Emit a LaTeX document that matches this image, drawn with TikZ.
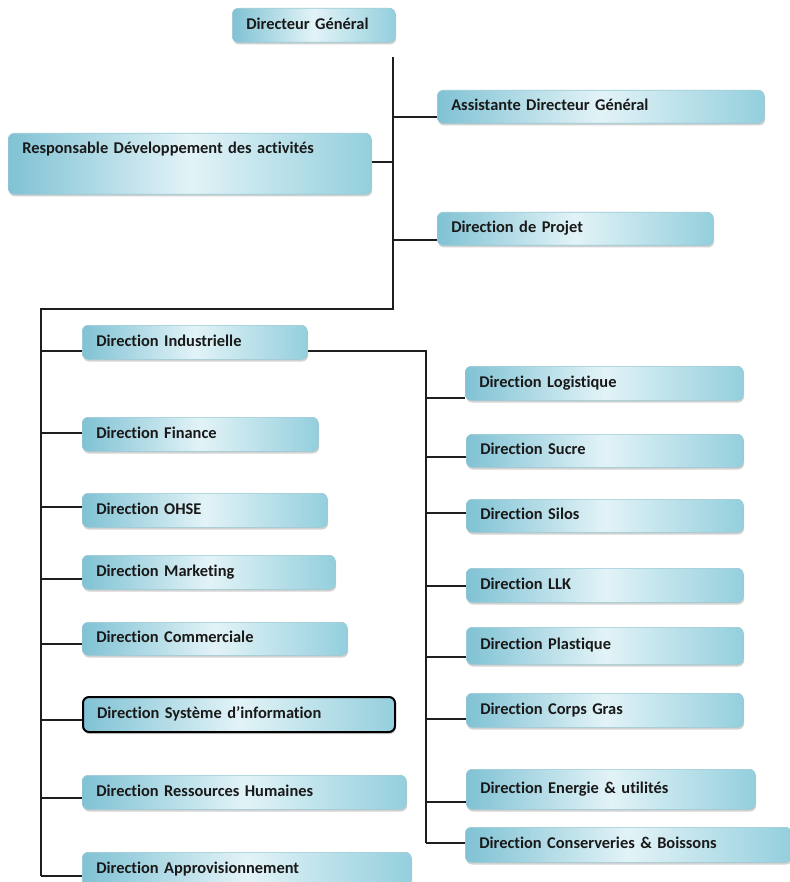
\documentclass[tikz,border=0pt]{standalone}
\usepackage{fontspec}
\setmainfont{Carlito}[Ligatures={NoCommon}]
\usetikzlibrary{positioning, shadows}

\definecolor{unitedge}{RGB}{150,200,212}
\definecolor{unitdark}{RGB}{128,194,212}
\definecolor{unitlight}{RGB}{226,243,247}
\definecolor{unitright}{RGB}{148,207,221}
\definecolor{linkgray}{RGB}{30,30,30}

\tikzset{
  unit/.style={rectangle, rounded corners=6pt, draw=unitedge, line width=0.6pt,
    left color=unitdark, right color=unitright, middle color=unitlight,
    drop shadow={shadow xshift=0.8pt, shadow yshift=-2.2pt, opacity=0.35},
    anchor=north west, align=left, inner xsep=14pt, inner ysep=0pt,
    text height=11pt, text depth=3pt, text=black!90,
    font=\bfseries\fontsize{16.4}{19}\selectfont},
  link/.style={draw=linkgray, line width=1.1pt}
}

\begin{document}
\begin{tikzpicture}[x=1pt, y=-1pt]
          \useasboundingbox[fill=white] (0,0) rectangle (789,882);
          % direction generale
          \begin{scope}[every node/.style={unit}]
            \node (dg) [text width=135pt, minimum height=34pt] at (232,8) {Directeur Général};
            \node (asst) [text width=299pt, minimum height=33pt] at (437,90) {Assistante Directeur Général};
            \node (resp) [text width=335pt, minimum height=61pt, inner ysep=9pt, text depth=32pt] at (8,133) {Responsable Développement des activités};
            \node (proj) [text width=248pt, minimum height=33pt] at (437,212) {Direction de Projet};
          \end{scope}
          % directions (gauche)
          \begin{scope}[every node/.style={unit}]
            \node (ind) [text width=197pt, minimum height=34pt] at (82,325) {Direction Industrielle};
            \node (fin) [text width=208pt, minimum height=34pt] at (82,417) {Direction Finance};
            \node (ohse) [text width=217pt, minimum height=34pt] at (82,493) {Direction OHSE};
            \node (mkt) [text width=225pt, minimum height=34pt] at (82,555) {Direction Marketing};
            \node (com) [text width=237pt, minimum height=33pt] at (82,622) {Direction Commerciale};
            \node (si) [text width=284pt, minimum height=35pt, draw=black, line width=2pt] at (82,696) {Direction Système d’information};
            \node (rh) [text width=296pt, minimum height=34pt] at (82,775) {Direction Ressources Humaines};
            \node (appro) [text width=301pt, minimum height=34pt] at (82,852) {Direction Approvisionnement};
          \end{scope}
          % directions industrielles (droite)
          \begin{scope}[every node/.style={unit}]
            \node (log) [text width=250pt, minimum height=34pt] at (465,366) {Direction Logistique};
            \node (sucre) [text width=249pt, minimum height=33pt] at (466,434) {Direction Sucre};
            \node (silos) [text width=249pt, minimum height=33pt] at (466,499) {Direction Silos};
            \node (llk) [text width=249pt, minimum height=34pt] at (466,568) {Direction LLK};
            \node (plast) [text width=249pt, minimum height=37pt] at (466,627) {Direction Plastique};
            \node (corps) [text width=249pt, minimum height=34pt] at (466,693) {Direction Corps Gras};
            \node (ener) [text width=261pt, minimum height=40pt] at (466,769) {Direction Energie \& utilités};
            \node (cons) [text width=298pt, minimum height=35pt] at (465,827) {Direction Conserveries \& Boissons};
          \end{scope}
          % troncs
          \coordinate (top) at (393,57);
          \coordinate (bend) at (393,309);
          \coordinate (ltop) at (41,309);
          \coordinate (lend) at (41,876);
          \coordinate (rtop) at (426,351);
          \coordinate (rend) at (426,843);
          \begin{scope}[link]
            \draw (top) -- (bend) -- (ltop) -- (lend);
            \draw (ind.east |- rtop) -- (rtop) -- (rend);
            \path (asst.west |- 0,117) edge (top |- 0,117);
            \path (resp.east |- 0,162) edge (top |- 0,162);
            \path (proj.west |- 0,240) edge (top |- 0,240);
            \path (ltop |- 0,351) edge (ind.west |- 0,351);
            \path (ltop |- 0,433) edge (fin.west |- 0,433);
            \path (ltop |- 0,507) edge (ohse.west |- 0,507);
            \path (ltop |- 0,579) edge (mkt.west |- 0,579);
            \path (ltop |- 0,644) edge (com.west |- 0,644);
            \path (ltop |- 0,720) edge (si.west |- 0,720);
            \path (ltop |- 0,798) edge (rh.west |- 0,798);
            \path (lend) edge (appro.west |- lend);
            \path (rtop |- 0,398) edge (log.west |- 0,398);
            \path (rtop |- 0,457) edge (sucre.west |- 0,457);
            \path (rtop |- 0,513) edge (silos.west |- 0,513);
            \path (rtop |- 0,586) edge (llk.west |- 0,586);
            \path (rtop |- 0,657) edge (plast.west |- 0,657);
            \path (rtop |- 0,719) edge (corps.west |- 0,719);
            \path (rtop |- 0,802) edge (ener.west |- 0,802);
            \path (rend) edge (cons.west |- rend);
          \end{scope}
        \end{tikzpicture}
\end{document}
